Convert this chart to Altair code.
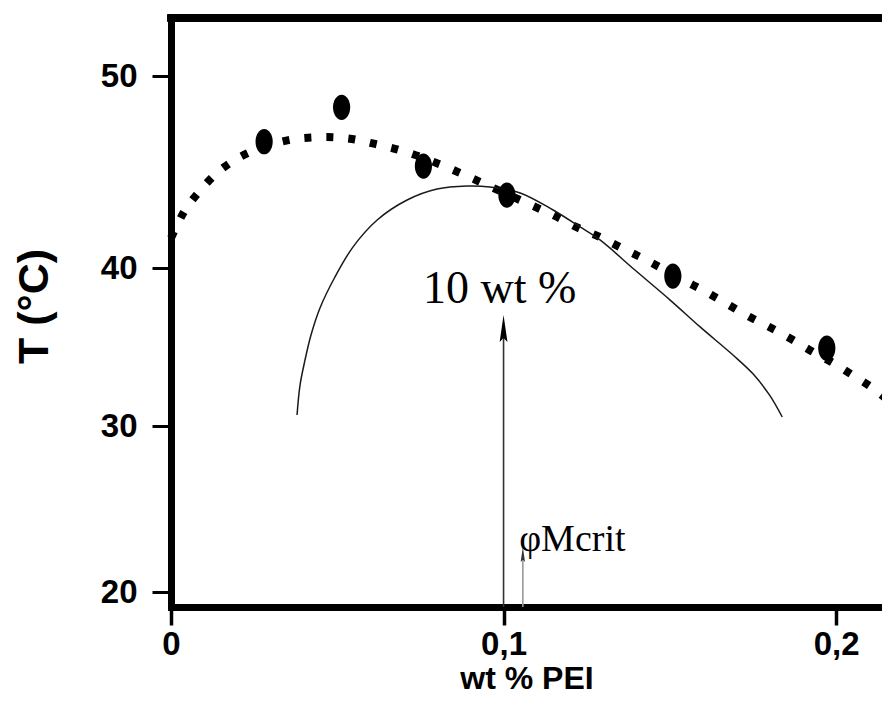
import altair as alt
import pandas as pd

# ---- data ----
pt_x = [0.0280, 0.0513, 0.0759, 0.1010, 0.1509, 0.1972]
pt_t = [46.58, 48.37, 45.31, 43.80, 39.49, 34.92]

fit_x = [0.0, 0.0039, 0.0084, 0.0135, 0.0192, 0.0253, 0.0328, 0.0397, 0.0469, 0.0544,
         0.0614, 0.0686, 0.0821, 0.0890, 0.0956, 0.1089, 0.1155, 0.1218, 0.1290, 0.1350,
         0.1417, 0.1546, 0.1609, 0.1672, 0.1735, 0.1805, 0.1865, 0.1925, 0.1991, 0.2054,
         0.2114, 0.2162]
fit_t = [41.56, 42.92, 43.96, 44.90, 45.63, 46.15, 46.56, 46.77, 46.82, 46.72,
         46.46, 46.15, 45.31, 44.79, 44.27, 43.23, 42.71, 42.14, 41.61, 41.09,
         40.52, 39.18, 38.48, 37.72, 36.96, 36.20, 35.51, 34.75, 33.99, 33.16,
         32.34, 31.52]

bin_x = [0.0379, 0.0388, 0.0403, 0.0421, 0.0448, 0.0493, 0.0547, 0.0620, 0.0710, 0.0800,
         0.0890, 0.0959, 0.1050, 0.1149, 0.1230, 0.1290, 0.1395, 0.1501, 0.1591, 0.1690,
         0.1750, 0.1800, 0.1838]
bin_t = [30.70, 32.59, 34.18, 35.76, 37.47, 39.43, 41.09, 42.50, 43.54, 44.11,
         44.27, 44.22, 43.91, 43.02, 42.14, 41.46, 39.87, 37.97, 36.27, 34.49,
         33.30, 31.95, 30.57]

shaft_x = [0.1, 0.1058]
shaft_t0 = [19.1, 19.1]
shaft_t1 = [35.76, 22.05]
shaft_color = ["#333333", "#9a9a9a"]

head_x = [0.1, 0.1058]
head_t = [36.17, 22.26]
head_size = [729, 225]
head_color = ["#000000", "#333333"]

txt_x = [0.0758, 0.1047]
txt_t = [37.78, 22.47]
txt = ["10 wt %", "φMcrit"]
txt_size = [46, 38]

x_ticks = [0, 0.1, 0.2]
y_ticks = [20, 30, 40, 50]

# ---- layout ----
W, H = 711, 589
x_dom = [0, 0.2138]
y_dom = [19.1, 20, 30, 40, 50, 53.02]
y_rng = [589, 574, 408, 250, 58, 0]

ELLIPSE = "M-0.68,0 A0.68,1 0 1,0 0.68,0 A0.68,1 0 1,0 -0.68,0 Z"
ARROW = "M0,-1 L0.29,1 L0,0.7 L-0.29,1 Z"

xs = alt.Scale(domain=x_dom, nice=False, zero=False)
ys = alt.Scale(domain=y_dom, range=y_rng, nice=False, zero=False)

x_axis = alt.Axis(values=x_ticks, labelExpr="replace(format(datum.value, '.1~f'), '.', ',')",
                  title="wt % PEI", titleFont="Liberation Sans", titleFontSize=32,
                  titleFontWeight="bold", titleColor="black", titleY=81, titleBaseline="alphabetic",
                  labelFont="Liberation Sans", labelFontSize=33, labelFontWeight="bold",
                  labelColor="black", labelPadding=3, labelFlush=False, labelOverlap=False,
                  tickSize=18, tickWidth=3.5, tickColor="black",
                  domainWidth=7, domainColor="black", domainCap="square", grid=False)
y_axis = alt.Axis(values=y_ticks, title="T (°C)", titleFont="Liberation Sans", titleFontSize=43,
                  titleFontWeight="bold", titleColor="black", titleAngle=270, titleX=-124,
                  titleY=288, titleAlign="center", titleBaseline="alphabetic",
                  labelFont="Liberation Sans", labelFontSize=33, labelFontWeight="bold",
                  labelColor="black", labelPadding=15, labelOverlap=False,
                  tickSize=19, tickWidth=3, tickColor="black",
                  domainWidth=7, domainColor="black", domainCap="square", grid=False)

pts = pd.DataFrame({"x": pt_x, "t": pt_t})
fit = pd.DataFrame({"x": fit_x, "t": fit_t})
bino = pd.DataFrame({"x": bin_x, "t": bin_t})
shafts = pd.DataFrame({"x": shaft_x, "t0": shaft_t0, "t1": shaft_t1, "c": shaft_color})
heads = pd.DataFrame({"x": head_x, "t": head_t, "s": head_size, "c": head_color})
texts = pd.DataFrame({"x": txt_x, "t": txt_t, "txt": txt, "fs": txt_size})

base_x = alt.X("x:Q", scale=xs, axis=x_axis)
base_y = alt.Y("t:Q", scale=ys, axis=y_axis)

fit_line = alt.Chart(fit).mark_line(color="black", strokeWidth=8, strokeDash=[7, 15],
                                    interpolate="monotone").encode(x=base_x, y=base_y)
bin_line = alt.Chart(bino).mark_line(color="#1a1a1a", strokeWidth=1.5,
                                     interpolate="catmull-rom").encode(
    x=alt.X("x:Q", scale=xs), y=alt.Y("t:Q", scale=ys))
points = alt.Chart(pts).mark_point(shape=ELLIPSE, filled=True, size=640, color="black",
                                   opacity=1, strokeWidth=0).encode(
    x=alt.X("x:Q", scale=xs), y=alt.Y("t:Q", scale=ys))
shaft = alt.Chart(shafts).mark_rule(strokeWidth=1.6).encode(
    x=alt.X("x:Q", scale=xs), y=alt.Y("t0:Q", scale=ys), y2="t1:Q",
    color=alt.Color("c:N", scale=None))
head = alt.Chart(heads).mark_point(shape=ARROW, filled=True, opacity=1, strokeWidth=0).encode(
    x=alt.X("x:Q", scale=xs), y=alt.Y("t:Q", scale=ys),
    size=alt.Size("s:Q", scale=None), color=alt.Color("c:N", scale=None))
labels = alt.Chart(texts).mark_text(font="Liberation Serif", align="left", baseline="alphabetic",
                                    color="black").encode(
    x=alt.X("x:Q", scale=xs), y=alt.Y("t:Q", scale=ys), text="txt:N",
    size=alt.Size("fs:Q", scale=None))
top_rule = alt.Chart(pts).mark_rule(color="black", strokeWidth=7, strokeCap="square").encode(
    x=alt.value(0), x2=alt.value(W), y=alt.value(0))

chart = alt.layer(fit_line, bin_line, shaft, head, points, labels, top_rule).properties(
    width=W, height=H,
    autosize=alt.AutoSizeParams(type="none"),
    padding={"left": 163, "top": 10, "right": 0, "bottom": 89},
).configure_view(strokeWidth=0).configure(background="white")

chart.save("out.html", embed_options={"renderer": "svg", "actions": False})
